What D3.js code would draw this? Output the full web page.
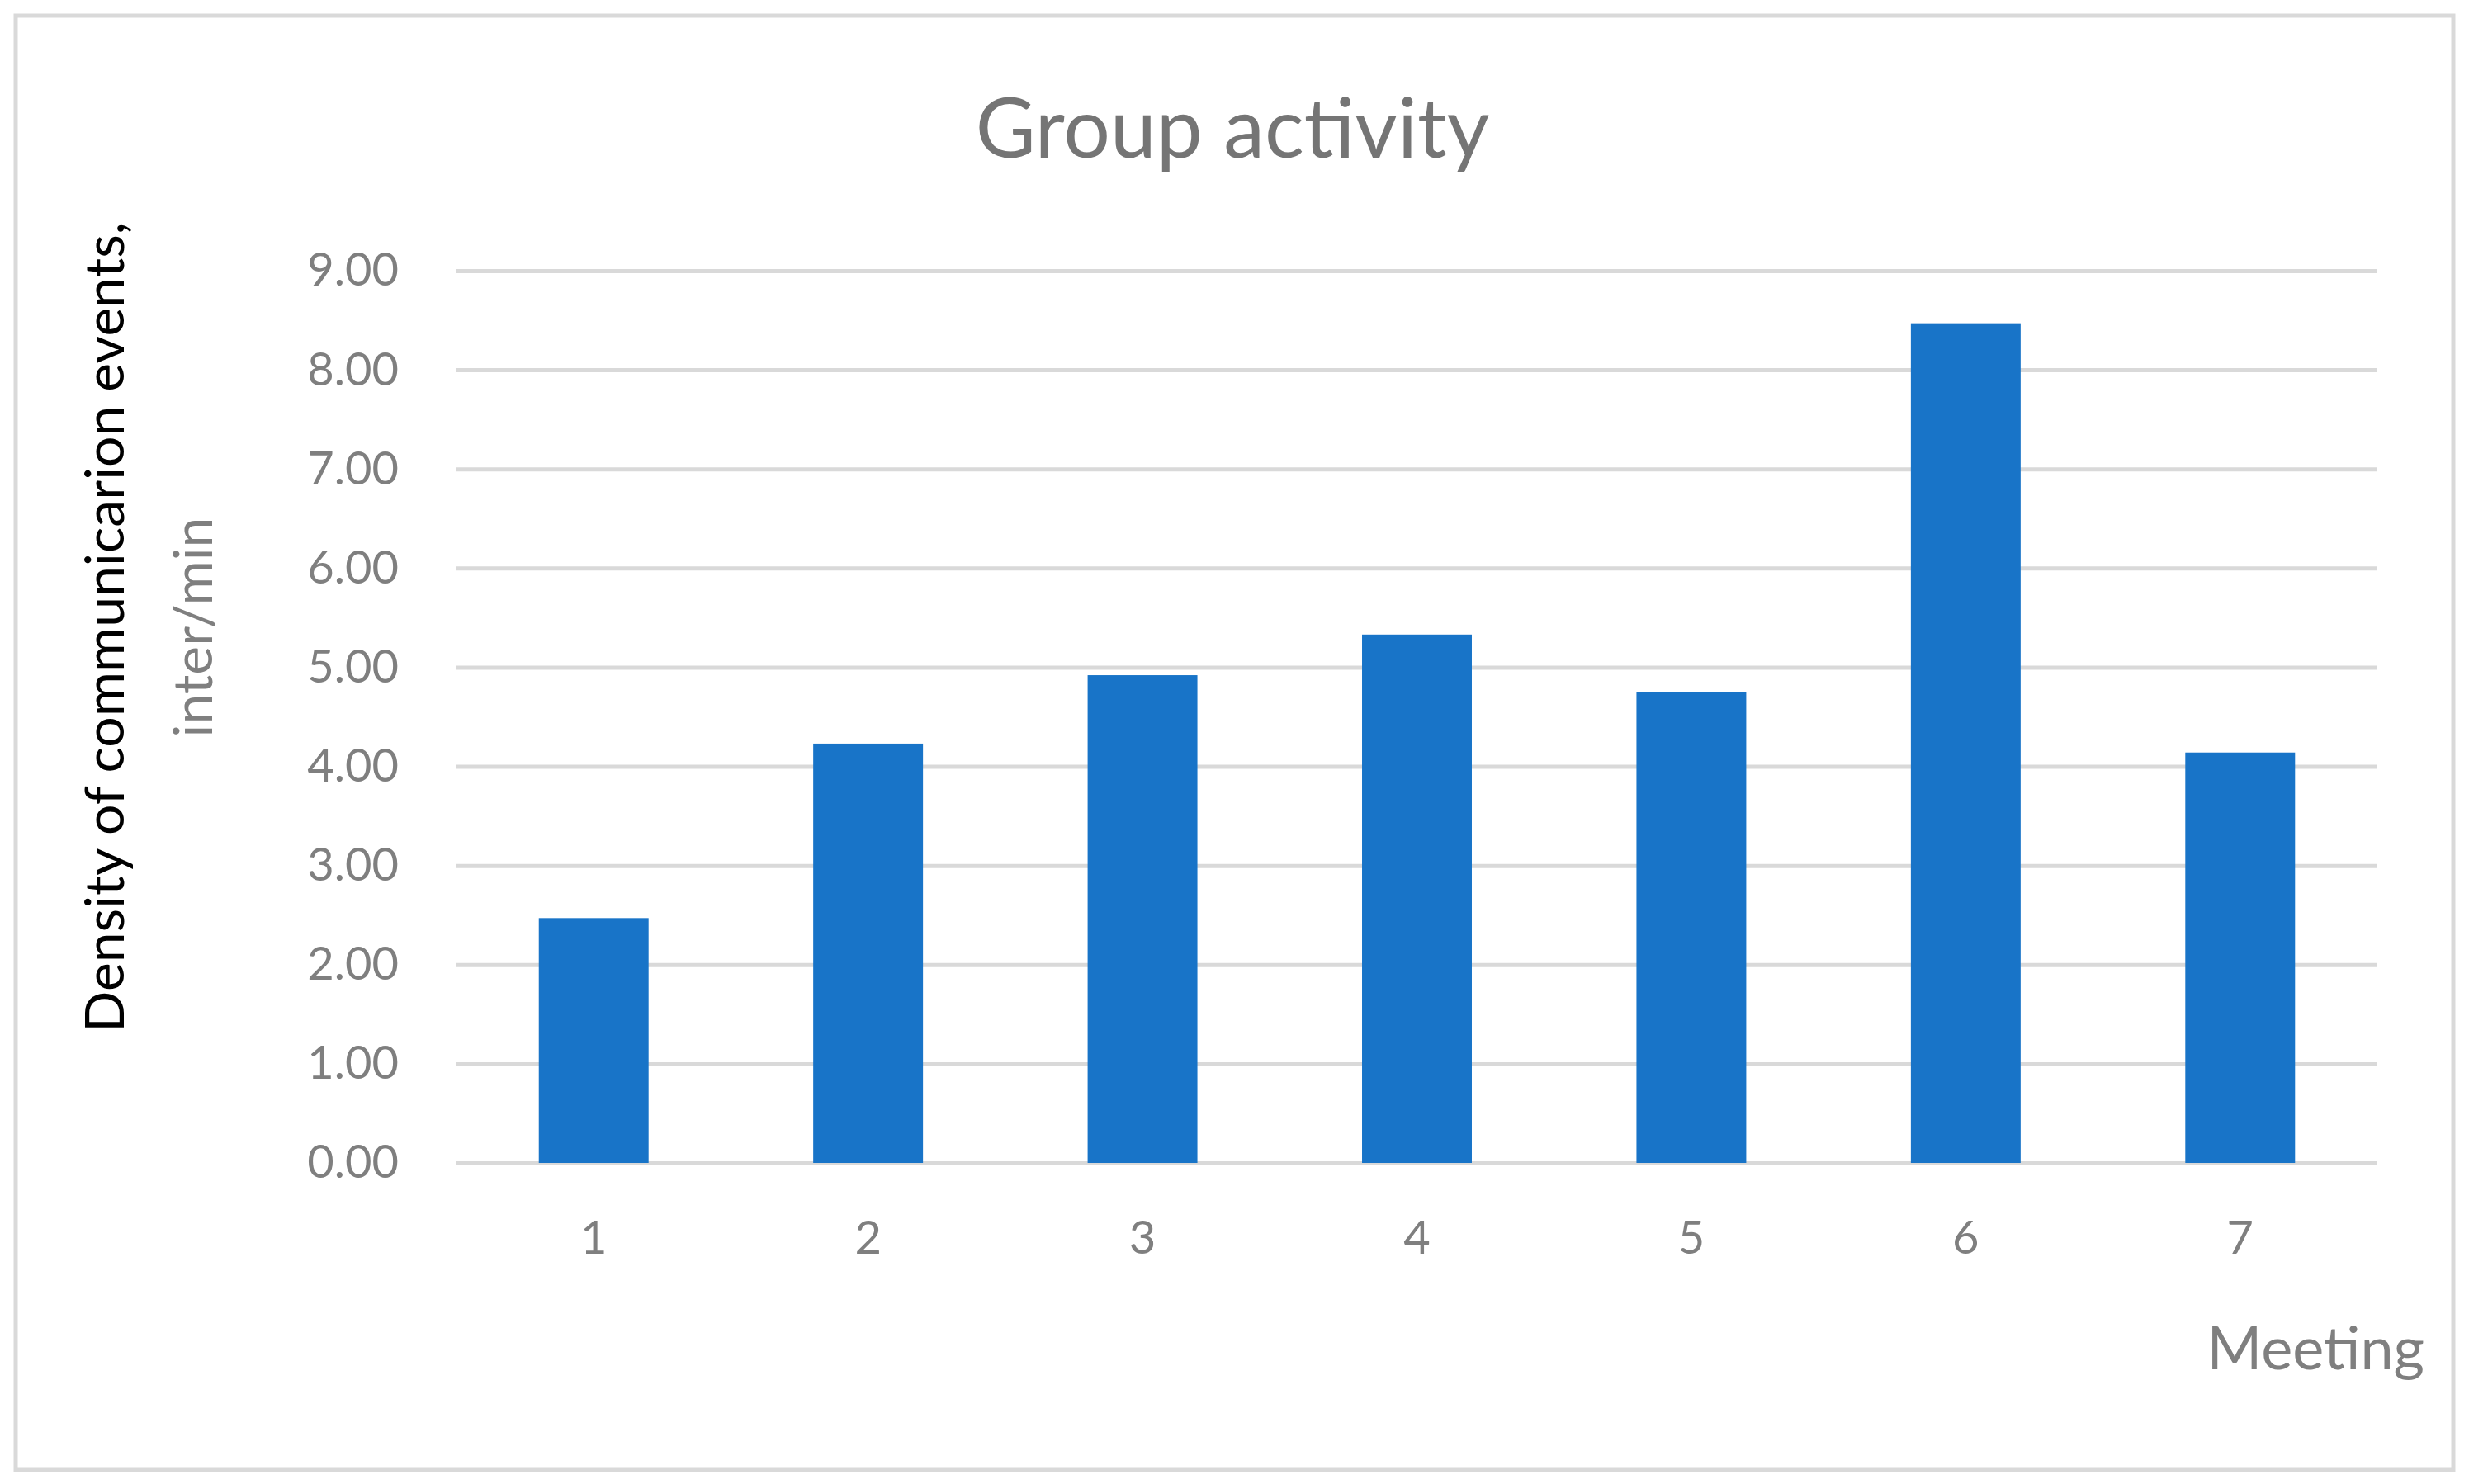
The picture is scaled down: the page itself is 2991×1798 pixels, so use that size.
<!DOCTYPE html>
<html><head><meta charset="utf-8">
<script src="https://cdn.jsdelivr.net/npm/d3@7"></script>
<style>body{margin:0;background:#fff}</style></head>
<body><svg id="c" width="2991" height="1798"></svg>
<script>
const categories = ["1","2","3","4","5","6","7"];
const values = [2.47, 4.23, 4.92, 5.33, 4.75, 8.47, 4.14];
const yTicks = [0,1,2,3,4,5,6,7,8,9];

const svg = d3.select("#c");
const font = "Lato, 'Open Sans', sans-serif";
svg.append("rect").attr("x",19).attr("y",19).attr("width",2953).attr("height",1762)
  .attr("fill","#fff").attr("stroke","#d9d9d9").attr("stroke-width",5);

const L=553, R=2880, T=328, B=1409;
const x = d3.scaleBand().domain(categories).range([L,R]).paddingInner(0.6).paddingOuter(0.3);
const y = d3.scaleLinear().domain([0,9]).range([B,T]);

const ya = svg.append("g").attr("transform",`translate(${L},0)`)
  .call(d3.axisLeft(y).tickValues(yTicks).tickFormat(d3.format(".2f")).tickSize(-(R-L)).tickPadding(70));
ya.select(".domain").remove();
ya.selectAll("line").attr("stroke","#d9d9d9").attr("stroke-width",5);
ya.selectAll("text").attr("font-family",font).attr("font-size",56).attr("fill","#7f7f7f");

svg.selectAll(".bar").data(values).join("rect")
  .attr("x",(d,i)=>x(categories[i])).attr("width",x.bandwidth())
  .attr("y",d=>y(d)).attr("height",d=>B-y(d)).attr("fill","#1874c8");

const xa = svg.append("g").attr("transform",`translate(0,${B})`)
  .call(d3.axisBottom(x).tickSize(0).tickPadding(70));
xa.select(".domain").remove();
xa.selectAll("text").attr("font-family",font).attr("font-size",56).attr("fill","#7f7f7f");

svg.append("text").attr("x",1493).attr("y",191).attr("text-anchor","middle")
  .attr("font-family",font).attr("font-size",100).attr("fill","#757575").text("Group activity");
svg.append("text").attr("x",2937).attr("y",1659).attr("text-anchor","end")
  .attr("font-family",font).attr("font-size",72).attr("fill","#7f7f7f").text("Meeting");
svg.append("text").attr("transform","translate(150,760) rotate(-90)").attr("text-anchor","middle")
  .attr("font-family",font).attr("font-size",66).attr("fill","#000").text("Density of communicarion events,");
svg.append("text").attr("transform","translate(257,760) rotate(-90)").attr("text-anchor","middle")
  .attr("font-family",font).attr("font-size",66).attr("fill","#7f7f7f").text("inter/min");
</script></body></html>
